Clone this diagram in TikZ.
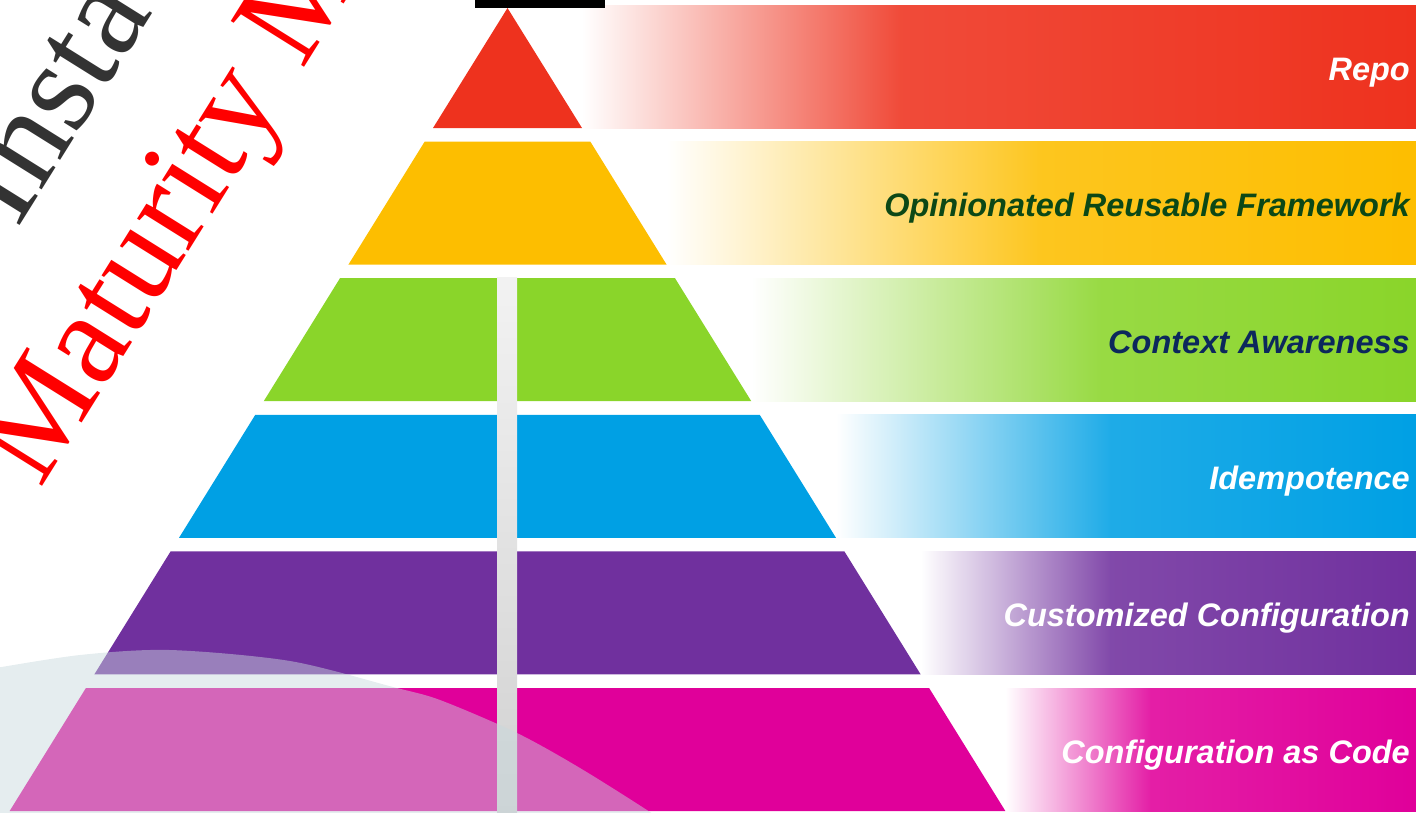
\documentclass[tikz,border=0pt]{standalone}
\usepackage{fontspec}
\setmainfont{Liberation Serif}
\setsansfont{Liberation Sans}
\definecolor{lvlA}{RGB}{238,50,30}
\definecolor{lvlB}{RGB}{253,190,0}
\definecolor{lvlC}{RGB}{138,213,42}
\definecolor{lvlD}{RGB}{0,160,228}
\definecolor{lvlE}{RGB}{112,48,158}
\definecolor{lvlF}{RGB}{224,0,154}
\definecolor{txtgreen}{RGB}{12,72,22}
\definecolor{txtnavy}{RGB}{12,40,92}
\definecolor{haze}{RGB}{200,217,221}
\definecolor{titlegrey}{RGB}{51,51,51}
\tikzset{
  lvllabel/.style={anchor=base east, inner sep=0pt, font=\sffamily\bfseries\itshape\fontsize{32.5}{39}\selectfont},
  titleword/.style={anchor=base west, rotate=58, inner sep=0pt, font=\fontsize{132}{158}\selectfont}
}
\begin{document}
\begin{tikzpicture}[x=1pt,y=-1pt]
 \useasboundingbox (0,0) rectangle (1416,812);
 \clip (0,0) rectangle (1416,812);
 % bands fading out to the right of the pyramid
 \foreach \k/\col/\xf in {0/lvlA/900,1/lvlB/1040,2/lvlC/1100,3/lvlD/1110,4/lvlE/1110,5/lvlF/1150}{
   \pgfmathsetmacro{\yt}{5+136.6*\k}
   \pgfmathsetmacro{\yb}{\yt+123}
   \pgfmathsetmacro{\xs}{507.5+0.62*(\yb-8)}
   \shade[left color=white, right color=\col!88!white] (\xs,\yt) rectangle (\xf+1,\yb);
   \shade[left color=\col!88!white, right color=\col] (\xf,\yt) rectangle (1416,\yb);
 }
 % pyramid
 \fill[lvlA] (507.5,8) -- (582,128) -- (433,128) -- cycle;
 \foreach \k/\col in {1/lvlB,2/lvlC,3/lvlD,4/lvlE,5/lvlF}{
   \pgfmathsetmacro{\yt}{5+136.6*\k}
   \pgfmathsetmacro{\yb}{\yt+123}
   \pgfmathsetmacro{\dt}{0.62*(\yt-8)}
   \pgfmathsetmacro{\db}{0.62*(\yb-8)}
   \fill[\col] (507.5-\dt,\yt) -- (507.5+\dt,\yt) -- (507.5+\db,\yb) -- (507.5-\db,\yb) -- cycle;
 }
 \shade[top color=gray!10, bottom color=gray!36] (497,277) rectangle (517,812);
 \fill[black] (475,-1) rectangle (605,8);
 % pale arc at the bottom left
 \fill[haze, opacity=0.47] plot[smooth] coordinates {(-10,669) (80,655) (170,650) (290,661) (393,687) (440,700) (517,733) (580,768) (650,812) (690,840)} -- (-10,840) -- cycle;
 % level names
 \node[lvllabel, white] (lvl0) at (1410,80) {Repo};
 \node[lvllabel, txtgreen] (lvl1) at (1410,216.6) {Opinionated Reusable Framework};
 \node[lvllabel, txtnavy] (lvl2) at (1410,353.2) {Context Awareness};
 \node[lvllabel, white] (lvl3) at (1410,489.8) {Idempotence};
 \node[lvllabel, white] (lvl4) at (1410,626.4) {Customized Configuration};
 \node[lvllabel, white] (lvl5) at (1410,763) {Configuration as Code};
 % slanted title
 \node[titleword, titlegrey] (title0) at (17,230) {Insta};
 \node[titleword, red] (title1) at (40,490) {Maturity M};
\end{tikzpicture}
\end{document}
